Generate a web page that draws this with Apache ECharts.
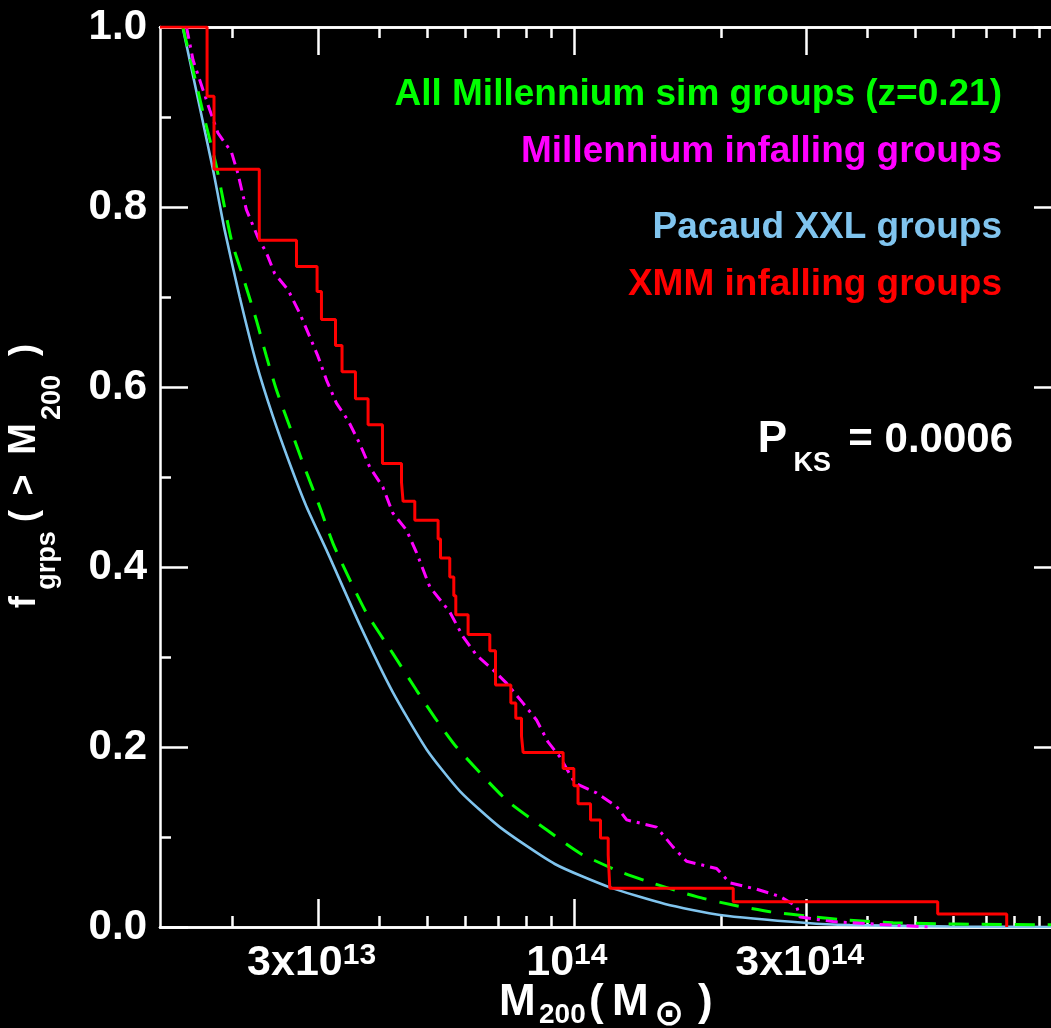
<!DOCTYPE html>
<html><head><meta charset="utf-8">
<script src="https://cdn.jsdelivr.net/npm/echarts@6/dist/echarts.min.js"></script>
<style>html,body{margin:0;padding:0;background:#000;overflow:hidden}#c{width:1051px;height:1028px}</style>
</head><body><div id="c"></div>
<script>
// Masses are in units of 1e13 Msun (M200); fractions are f_grps(>M200)
const xMin = 1.42, xMax = 100;
const majorTickMass = [3, 10, 30, 100];
const minorTickMass = [2, 4, 5, 6, 7, 8, 9, 20, 40, 50, 60, 70, 80, 90];
const tickLabelMass = [3, 10, 30];
const tickLabelBase = ['3x10', '10', '3x10'];
const tickLabelExp = ['13', '14', '14'];

// Pacaud XXL groups (solid light blue)
const blueMass = [1.580, 1.824, 1.927, 2.068, 2.238, 2.420, 2.618, 2.834, 3.113, 3.643, 4.257, 4.998, 5.841, 7.054, 9.145, 11.85, 15.37, 19.92, 30.03, 36.79, 58.96, 100];
const blueFrac = [1.0, 0.841, 0.774, 0.700, 0.626, 0.567, 0.515, 0.467, 0.419, 0.336, 0.261, 0.197, 0.151, 0.111, 0.070, 0.044, 0.0256, 0.0133, 0.0044, 0.0022, 0.0006, 0.0];

// All Millennium sim groups (green dashed)
const greenMass = [1.582, 1.754, 1.853, 1.989, 2.101, 2.238, 2.346, 2.459, 2.618, 2.788, 3.016, 3.212, 3.475, 3.760, 4.257, 4.762, 5.232, 5.748, 7.279, 8.793, 10.29, 12.43, 14.52, 17.84, 21.18, 25.22, 30.89, 36.22, 45.06, 55.37, 66.88, 90.14, 100];
const greenFrac = [1.0, 0.897, 0.845, 0.763, 0.722, 0.674, 0.634, 0.597, 0.556, 0.515, 0.467, 0.426, 0.386, 0.349, 0.304, 0.263, 0.230, 0.200, 0.141, 0.108, 0.082, 0.0614, 0.0486, 0.0337, 0.0244, 0.0170, 0.0114, 0.0078, 0.0048, 0.0037, 0.0030, 0.0026, 0.0024];

// Millennium infalling groups (magenta dash-dot)
const magMass = [1.609, 1.660, 1.795, 1.867, 1.989, 2.051, 2.134, 2.255, 2.346, 2.439, 2.597, 2.745, 2.877, 2.992, 3.113, 3.264, 3.447, 3.643, 3.819, 4.061, 4.257, 4.543, 4.762, 5.069, 5.570, 5.924, 6.319, 6.823, 7.279, 7.862, 8.386, 8.845, 9.361, 10.05, 11.13, 12.23, 12.83, 14.77, 15.96, 17.02, 19.61, 20.88, 23.68, 26.43, 28.60, 29.05, 33.95, 45.06, 53.63];
const magFrac = [1.0, 0.963, 0.908, 0.882, 0.861, 0.837, 0.797, 0.766, 0.749, 0.726, 0.708, 0.682, 0.656, 0.634, 0.608, 0.582, 0.563, 0.537, 0.511, 0.489, 0.460, 0.441, 0.416, 0.378, 0.350, 0.323, 0.302, 0.286, 0.271, 0.249, 0.230, 0.206, 0.189, 0.160, 0.149, 0.134, 0.119, 0.111, 0.089, 0.073, 0.065, 0.049, 0.042, 0.034, 0.023, 0.011, 0.006, 0.002, 0.0];

// XMM infalling groups (red step)
const redMass = [1.42, 1.773, 1.832, 2.268, 2.703, 2.979, 3.041, 3.249, 3.351, 3.570, 3.789, 4.055, 4.436, 4.469, 4.723, 5.272, 5.332, 5.570, 5.677, 5.731, 6.073, 6.728, 6.912, 7.429, 7.605, 7.813, 7.872, 9.508, 10.0, 10.20, 10.82, 11.34, 11.76, 11.85, 21.21, 55.64, 77.04];
const redFrac = [1.0, 0.923, 0.842, 0.763, 0.734, 0.706, 0.675, 0.646, 0.617, 0.587, 0.558, 0.515, 0.494, 0.473, 0.452, 0.431, 0.410, 0.389, 0.368, 0.347, 0.325, 0.307, 0.269, 0.249, 0.232, 0.212, 0.194, 0.176, 0.157, 0.137, 0.119, 0.099, 0.080, 0.043, 0.028, 0.0144, 0.0];

const legendTexts = ['All Millennium sim groups (z=0.21)', 'Millennium infalling groups', 'Pacaud XXL groups', 'XMM infalling groups'];
const legendColors = ['#00ff00', '#ff00ff', '#80c4ee', '#ff0000'];
const pksText = ['P', 'KS', '= 0.0006'];

const FONT = '"Liberation Sans", Arial, Helvetica, sans-serif';
const lg = m => 13 + Math.log10(m);
const pairs = (xs, ys) => xs.map((m, i) => [lg(m), ys[i]]);
const AX = { color: '#ffffff', width: 2.5 };

function xAxis(pos, tickMass, len, withLabels) {
  return {
    type: 'value', position: pos, min: lg(xMin), max: lg(xMax),
    axisLine: { show: true, lineStyle: AX },
    axisTick: { show: true, inside: true, length: len, customValues: tickMass.map(lg), lineStyle: AX },
    axisLabel: withLabels ? {
      show: true, margin: 14, customValues: tickLabelMass.map(lg),
      formatter: v => {
        let i = tickLabelMass.findIndex(m => Math.abs(lg(m) - v) < 1e-6);
        if (i < 0) return '';
        return '{b|' + tickLabelBase[i] + '}{s|' + tickLabelExp[i] + '}';
      },
      rich: {
        b: { fontSize: 43, fontWeight: 'bold', fontFamily: FONT, color: '#fff', lineHeight: 44 },
        s: { fontSize: 30, fontWeight: 'bold', fontFamily: FONT, color: '#fff', lineHeight: 24, verticalAlign: 'top', padding: [0, 14, 0, 0] }
      }
    } : { show: false },
    splitLine: { show: false }
  };
}
function yAxis(pos, withLabels) {
  return {
    type: 'value', position: pos, min: 0, max: 1, interval: 0.2,
    axisLine: { show: true, lineStyle: AX },
    axisTick: { show: true, inside: true, length: 28, lineStyle: AX },
    minorTick: { show: true, splitNumber: 2, length: 11, lineStyle: AX },
    axisLabel: withLabels ? { show: true, margin: 13, fontSize: 42, fontWeight: 'bold', fontFamily: FONT, color: '#fff', formatter: v => v.toFixed(1) } : { show: false },
    splitLine: { show: false }, minorSplitLine: { show: false }
  };
}
function T(text, x, y, size, color, align, rot, family) {
  return { type: 'text', x: x, y: y, rotation: rot || 0, silent: true, z: 100,
    style: { text: text, fill: color, fontSize: size, fontWeight: 'bold', fontFamily: family || FONT, align: align || 'left', verticalAlign: 'middle' } };
}

const legendY = [95, 152, 228, 285];
const graphics = [];
legendTexts.forEach((t, i) => graphics.push(T(t, 1002, legendY[i], 37, legendColors[i], 'right')));
// P_KS annotation
graphics.push(T(pksText[0], 787, 440, 44, '#fff', 'right'));
graphics.push(T(pksText[1], 831, 464, 27, '#fff', 'right'));
graphics.push(T(pksText[2], 1013, 440, 42, '#fff', 'right'));
// x-axis title: M200 ( M_sun )
graphics.push(T('M', 499, 1002.5, 44, '#fff', 'left'));
graphics.push(T('200', 539, 1015, 28, '#fff', 'left'));
graphics.push(T('(', 589, 1002.5, 44, '#fff', 'left'));
graphics.push(T('M', 612, 1002.5, 44, '#fff', 'left'));
graphics.push(T('\u2299', 654, 1016, 36, '#fff', 'left', 0, '"DejaVu Sans", sans-serif'));
graphics.push(T(')', 698, 1002.5, 44, '#fff', 'left'));
// y-axis title: f_grps ( > M200 ) rotated
const R = Math.PI / 2;
graphics.push(T('f', 25, 602, 36, '#fff', 'center', R));
graphics.push(T('grps', 47.5, 560.5, 27, '#fff', 'center', R));
graphics.push(T('(', 25, 516, 36, '#fff', 'center', R));
graphics.push(T('>', 25, 485, 36, '#fff', 'center', R));
graphics.push(T('M', 25, 439, 38, '#fff', 'center', R));
graphics.push(T('200', 52.5, 397.5, 27, '#fff', 'center', R));
graphics.push(T(')', 25, 350, 36, '#fff', 'center', R));

const chart = echarts.init(document.getElementById('c'), null, { renderer: 'canvas', width: 1051, height: 1028 });
chart.setOption({
  animation: false,
  backgroundColor: '#000000',
  grid: { left: 160, right: -11, top: 27, bottom: 101, containLabel: false, outerBoundsMode: 'none' },
  xAxis: [
    xAxis('bottom', majorTickMass, 28, true),
    xAxis('bottom', minorTickMass, 11, false),
    xAxis('top', majorTickMass, 28, false),
    xAxis('top', minorTickMass, 11, false)
  ],
  yAxis: [yAxis('left', true), yAxis('right', false)],
  series: [
    { type: 'line', name: 'Pacaud XXL groups', data: pairs(blueMass, blueFrac), symbol: 'none', smooth: 0.2,
      lineStyle: { color: '#80c4ee', width: 2.6 } },
    { type: 'line', name: 'All Millennium sim groups (z=0.21)', data: pairs(greenMass, greenFrac), symbol: 'none', smooth: 0.2,
      lineStyle: { color: '#00ff00', width: 3, type: [20, 13] } },
    { type: 'line', name: 'Millennium infalling groups', data: pairs(magMass, magFrac), symbol: 'none',
      lineStyle: { color: '#ff00ff', width: 3, type: [12, 6, 3, 6] } },
    { type: 'line', name: 'XMM infalling groups', data: pairs(redMass, redFrac), symbol: 'none', step: 'end',
      lineStyle: { color: '#ff0000', width: 3 } }
  ],
  graphic: { elements: graphics }
});
</script></body></html>
